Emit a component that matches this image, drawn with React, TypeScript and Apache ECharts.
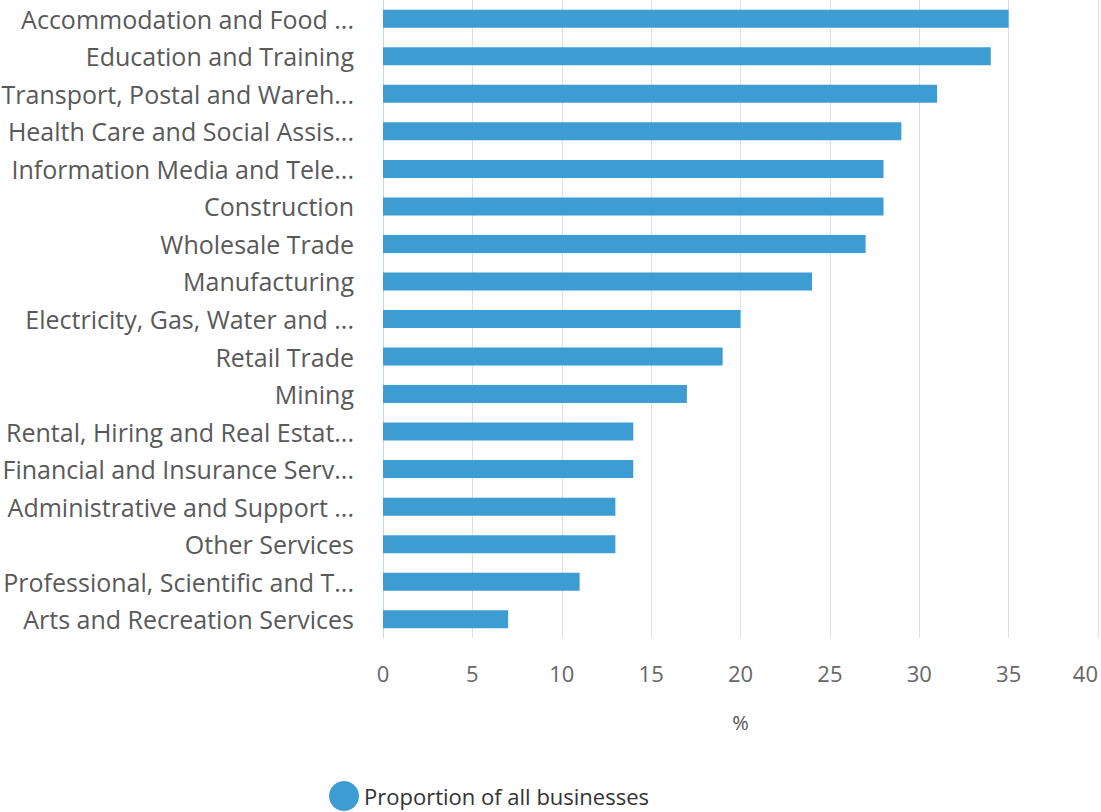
import React, { useEffect, useRef } from "react";
import * as echarts from "echarts";

const categories = [
  "Accommodation and Food ...",
  "Education and Training",
  "Transport, Postal and Wareh...",
  "Health Care and Social Assis...",
  "Information Media and Tele...",
  "Construction",
  "Wholesale Trade",
  "Manufacturing",
  "Electricity, Gas, Water and ...",
  "Retail Trade",
  "Mining",
  "Rental, Hiring and Real Estat...",
  "Financial and Insurance Serv...",
  "Administrative and Support ...",
  "Other Services",
  "Professional, Scientific and T...",
  "Arts and Recreation Services",
];
const values = [35, 34, 31, 29, 28, 28, 27, 24, 20, 19, 17, 14, 14, 13, 13, 11, 7];
const seriesName = "Proportion of all businesses";

export default function App() {
  const ref = useRef<HTMLDivElement>(null);
  useEffect(() => {
    const chart = echarts.init(ref.current!, undefined, { renderer: "svg" });
    const font = "'Open Sans', 'Segoe UI', sans-serif";
    chart.setOption({
      animation: false,
      textStyle: { fontFamily: font },
      grid: { left: 383, right: 3, top: 0, bottom: 174, containLabel: false, outerBoundsMode: "none" },
      legend: {
        data: [{ name: seriesName, icon: "circle" }],
        left: 324,
        top: 776,
        itemWidth: 30,
        itemHeight: 30,
        itemGap: 10,
        textStyle: { fontSize: 22, color: "#333", fontFamily: font },
      },
      xAxis: {
        type: "value",
        min: 0,
        max: 40,
        interval: 5,
        name: "%",
        nameLocation: "middle",
        nameGap: 74,
        nameTextStyle: { fontSize: 20, color: "#555", fontFamily: font },
        axisLine: { show: false },
        axisTick: { show: false },
        axisLabel: { fontSize: 22, color: "#666", margin: 24, fontFamily: font, alignMaxLabel: "right" },
        splitLine: { lineStyle: { color: "#e0e0e0", width: 1 } },
      },
      yAxis: {
        type: "category",
        data: categories,
        inverse: true,
        axisLine: { show: true, lineStyle: { color: "#c8d4ea", width: 1 } },
        axisTick: { show: false },
        axisLabel: { fontSize: 25, color: "#595959", margin: 29, fontFamily: font },
      },
      series: [
        {
          name: seriesName,
          type: "bar",
          data: values,
          barWidth: 18,
          itemStyle: { color: "#3d9dd3" },
        },
      ],
    });
    return () => chart.dispose();
  }, []);
  return <div ref={ref} style={{ width: 1101, height: 812, position: "absolute", left: 0, top: 0 }} />;
}
